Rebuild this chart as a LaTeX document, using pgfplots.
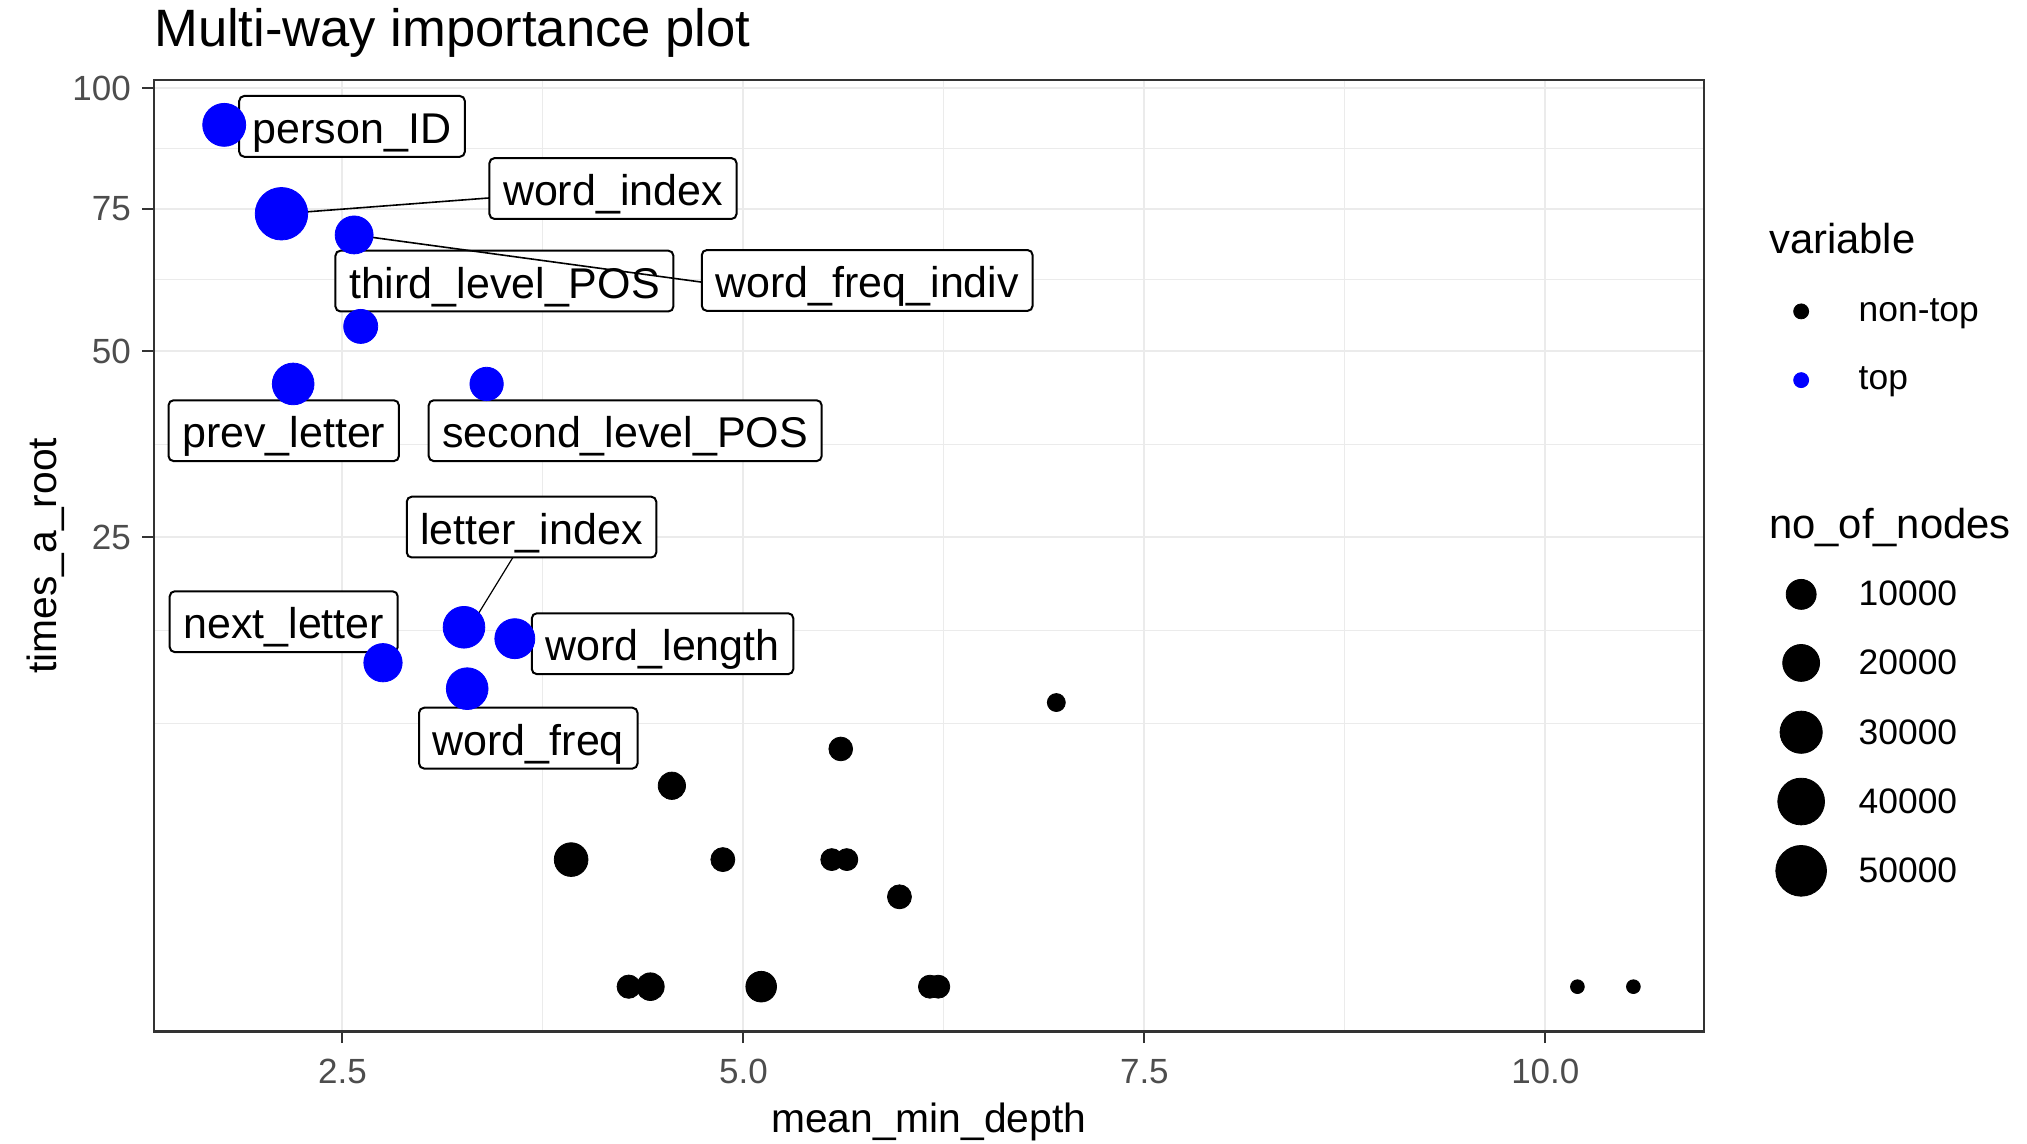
\documentclass[border=0pt]{standalone}
\usepackage{pgfplots}
\usepackage{pgfplotstable}
\pgfplotsset{compat=1.18}
\usepackage{fontspec}
\setmainfont{Liberation Sans}
\definecolor{grey92}{HTML}{EBEBEB}
\definecolor{grey30}{HTML}{4D4D4D}
\definecolor{grey20}{HTML}{333333}
\newcommand{\fs}[1]{\fontsize{#1}{#1}\selectfont}

\pgfplotstableread{
x t nodes
1.763 92 31500
2.120 74 54900
2.573 70 21800
2.614 54 15400
2.193 45 28900
3.399 45 14400
3.258 16 28900
3.575 15 25500
2.753 13 22400
3.278 11 28900
}\toptable

\pgfplotstableread{
x t nodes
6.951 10 800
5.607 7 3900
4.554 5 7060
3.926 2 14900
4.872 2 4100
5.551 2 2700
5.645 2 2700
5.973 1 4100
4.285 0 3600
4.420 0 7400
5.111 0 10800
6.163 0 3400
6.215 0 3400
10.200 0 10
10.549 0 10
}\nontoptable

\tikzset{lbl/.style={draw=black, fill=white, rounded corners=2.5pt, line width=1pt,
  font=\fs{21.5}, inner xsep=6.8pt, inner ysep=2pt, text height=21.7pt, text depth=4.7pt, anchor=center},
  seg/.style={black, line width=0.8pt}}

\begin{document}
\begin{tikzpicture}
\useasboundingbox (-76.9pt,-56.2pt) rectangle (936.6pt,515.8pt);
\begin{axis}[
  anchor=south west, at={(0pt,0pt)},
  scale only axis, width=775pt, height=475.75pt,
  xmin=1.324, xmax=10.988, ymin=-0.5, ymax=10.09,
  xtick={2.5,5,7.5,10}, xticklabels={2.5,5.0,7.5,10.0},
  ytick={5,7.0711,8.6603,10}, yticklabels={25,50,75,100},
  minor xtick={3.75,6.25,8.75},
  minor ytick={2.9289,3.9645,6.0355,7.8657,9.3301},
  grid=both,
  major grid style={grey92, line width=1pt},
  minor grid style={grey92, line width=0.5pt},
  tick align=outside, tick pos=left,
  major tick length=5.75pt, minor tick length=0pt,
  tick style={grey20, line width=1pt},
  axis line style={grey20, line width=1.1pt},
  tick label style={font=\fs{17.5}, text=grey30},
  /pgf/number format/assume math mode=true,
  xticklabel style={yshift=-4.6pt},
  yticklabel style={xshift=-2.2pt},
  clip=false,
  legend cell align=left,
  legend style={draw=none, fill=none, inner sep=0pt, row sep=0pt, column sep=16.1pt,
    at={(1.04619,0.86506)}, anchor=north west, nodes={inner sep=0pt, text depth=, text height=}, font=\fs{17.7}},
]
\addplot[forget plot, only marks, mark=*, draw=black, fill=black,
  visualization depends on={3.3125+0.041875*sqrt(\thisrow{nodes}) \as \msize},
  scatter, scatter/@pre marker code/.code={\scope[mark size=\msize pt]},
  scatter/@post marker code/.code={\endscope}]
  table[x=x, y expr={sqrt(\thisrow{t})}] {\nontoptable};
\addplot[forget plot, only marks, mark=*, draw=blue, fill=blue,
  visualization depends on={3.3125+0.041875*sqrt(\thisrow{nodes}) \as \msize},
  scatter, scatter/@pre marker code/.code={\scope[mark size=\msize pt]},
  scatter/@post marker code/.code={\endscope}]
  table[x=x, y expr={sqrt(\thisrow{t})}] {\toptable};

\addlegendimage{empty legend}
\addlegendentry{\hspace*{-44.8pt}\fs{20.9}\rule[-11.6pt]{0pt}{34pt}variable}
\addlegendimage{only marks, mark=*, black, mark size=3.75pt}
\addlegendentry{\rule[-12.2pt]{0pt}{34.5pt}non-top}
\addlegendimage{only marks, mark=*, blue, mark size=3.75pt}
\addlegendentry{\rule[-12.2pt]{0pt}{34.25pt}top}
\addlegendimage{empty legend}
\addlegendentry{\hspace*{-44.8pt}\fs{20.9}\rule[-11.2pt]{0pt}{73.05pt}no\_of\_nodes}
\addlegendimage{only marks, mark=*, black, mark size=7.5pt}
\addlegendentry{\rule[-11.3pt]{0pt}{33.9pt}10000}
\addlegendimage{only marks, mark=*, black, mark size=9.23pt}
\addlegendentry{\rule[-11.3pt]{0pt}{34.65pt}20000}
\addlegendimage{only marks, mark=*, black, mark size=10.56pt}
\addlegendentry{\rule[-11.3pt]{0pt}{34.65pt}30000}
\addlegendimage{only marks, mark=*, black, mark size=11.69pt}
\addlegendentry{\rule[-11.3pt]{0pt}{34.65pt}40000}
\addlegendimage{only marks, mark=*, black, mark size=12.68pt}
\addlegendentry{\rule[-11.3pt]{0pt}{34.65pt}50000}

\node[lbl] at (axis cs:2.560,9.575) {person\_ID};
\draw[seg] (axis cs:2.120,8.602) -- (axis cs:4.187,8.883);
\node[lbl] at (axis cs:4.187,8.883) {word\_index};
\node[lbl] at (axis cs:3.510,7.853) {third\_level\_POS};
\draw[seg] (axis cs:2.573,8.367) -- (axis cs:4.754,7.838);
\node[lbl] at (axis cs:5.772,7.860) {word\_freq\_indiv};
\node[lbl] at (axis cs:2.134,6.188) {prev\_letter};
\node[lbl] at (axis cs:4.263,6.188) {second\_level\_POS};
\draw[seg, line width=0.6pt] (axis cs:3.351,4.161) -- (axis cs:3.679,5.115);
\node[lbl] at (axis cs:3.679,5.115) {letter\_index};
\node[lbl] at (axis cs:2.134,4.062) {next\_letter};
\node[lbl] at (axis cs:4.496,3.817) {word\_length};
\node[lbl] at (axis cs:3.659,2.766) {word\_freq};
\end{axis}
\node[anchor=base west, font=\fs{26.3}, inner sep=0pt] at (0pt,492.5pt) {Multi-way importance plot};
\node[anchor=base, font=\fs{20.4}, inner sep=0pt] at (387.5pt,-50.4pt) {mean\_min\_depth};
\node[anchor=base, rotate=90, font=\fs{20.4}, inner sep=0pt] at (-48.45pt,237.9pt) {times\_a\_root};
\end{tikzpicture}
\end{document}
